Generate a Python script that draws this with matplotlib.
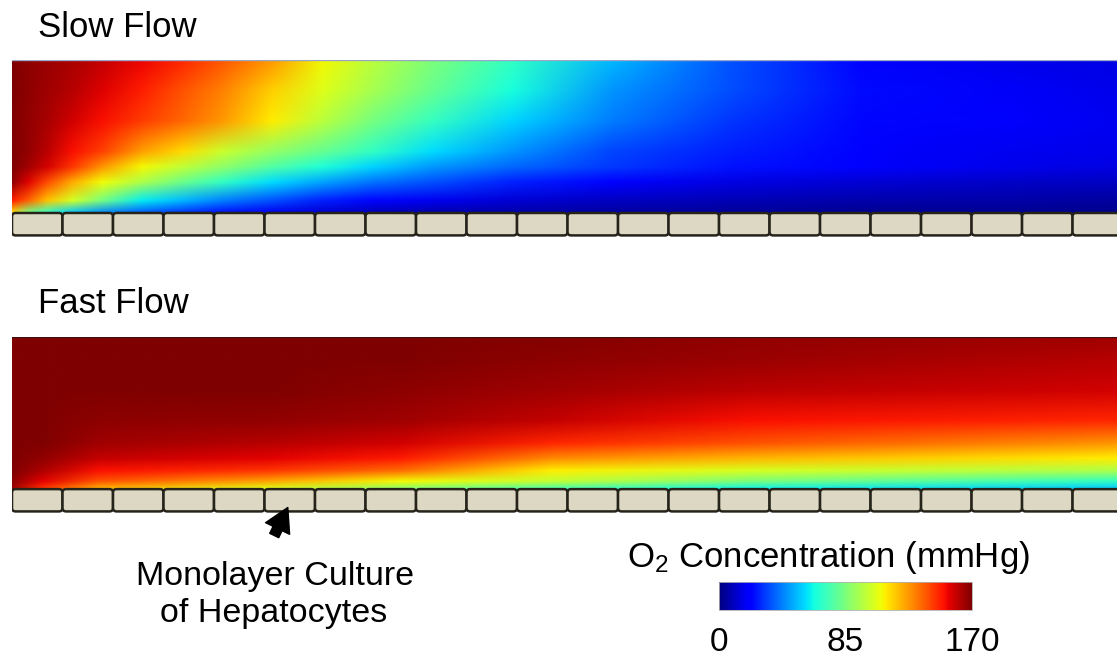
import matplotlib
matplotlib.use('Agg')
import matplotlib.pyplot as plt
import numpy as np
from matplotlib.image import NonUniformImage
from matplotlib.colors import Normalize
from matplotlib.patches import FancyBboxPatch, Rectangle, FancyArrowPatch
from matplotlib.cm import ScalarMappable

plt.rcParams['font.family'] = ['Liberation Sans', 'DejaVu Sans']
plt.rcParams['mathtext.fontset'] = 'custom'
plt.rcParams['mathtext.rm'] = 'Liberation Sans'
plt.rcParams['mathtext.it'] = 'Liberation Sans:italic'

# channel geometry in "cell widths"
chan_len = 21.88
chan_h = 3.0
n_cells = 22

# O2 (mmHg): columns = distance from inlet (cell widths),
# rows = height above the cells as a fraction of channel height
slow_x = [0, 0.3, 0.69, 1.19, 1.78, 2.57, 3.37, 4.16, 5.15, 6.14,
          7.13, 8.32, 9.9, 11.88, 14.26, 16.83, 19.8, 21.88]
slow_h = [0, 0.08, 0.2, 0.3, 0.4, 0.6, 0.8, 1.0]
slow_o2 = [
    [115,  85,  70,  55,  45,  37,  30,  24,  17,  12,   9,   7,   6,   5,   4,   3,   3,   2],  # h=0
    [150, 138, 120, 103,  84,  61,  52,  43,  35,  27,  22,  17,  13,  10,   8,   7,   6,   5],  # h=0.08
    [168, 156, 141, 124, 109,  95,  82,  70,  58,  49,  41,  35,  27,  20,  15,  13,  11,  10],  # h=0.2
    [170, 165, 157, 145, 128, 110,  99,  89,  77,  66,  57,  47,  39,  31,  24,  19,  16,  15],  # h=0.3
    [170, 167, 161, 152, 143, 126, 115, 101,  90,  81,  70,  58,  46,  33,  26,  20,  17,  16],  # h=0.4
    [170, 167, 164, 158, 152, 144, 136, 127, 112,  98,  84,  71,  57,  42,  30,  22,  19,  17],  # h=0.6
    [170, 168, 165, 162, 156, 149, 140, 131, 117, 105,  94,  81,  65,  46,  34,  23,  18,  16],  # h=0.8
    [170, 168, 166, 164, 160, 154, 148, 139, 127, 110,  98,  85,  70,  52,  35,  21,  16,  15],  # h=1.0
]

fast_x = [0, 0.6, 1.7, 5.1, 7.7, 10.7, 14.6, 21.88]
fast_h = [0, 0.05, 0.12, 0.2, 0.3, 0.45, 0.65, 0.85, 1.0]
fast_o2 = [
    [165, 145, 122, 105,  88,  75,  62,  55],   # h=0
    [168, 155, 140, 125, 110, 100,  85,  70],   # h=0.05
    [170, 163, 152, 145, 135, 112, 104,  95],   # h=0.12
    [170, 167, 160, 155, 150, 130, 122, 112],   # h=0.2
    [170, 170, 165, 162, 158, 148, 140, 128],   # h=0.3
    [170, 170, 168, 167, 165, 160, 152, 148],   # h=0.45
    [170, 170, 170, 170, 168, 165, 161, 158],   # h=0.65
    [170, 170, 170, 170, 170, 168, 166, 162],   # h=0.85
    [170, 170, 170, 170, 170, 169, 167, 165],   # h=1.0
]

cbar_ticks = [0, 85, 170]

W, H = 1117, 656
fig = plt.figure(figsize=(W / 100, H / 100), dpi=100)
fig.patch.set_facecolor('white')
norm = Normalize(0, 170)


def px_axes(x0, y0, x1, y1):
    return fig.add_axes([x0 / W, 1 - y1 / H, (x1 - x0) / W, (y1 - y0) / H])


def draw_channel(ax, xs, hs, vals, ybot):
    im = NonUniformImage(ax, interpolation='bilinear', cmap='jet', norm=norm,
                         extent=(0, chan_len, 0, chan_h))
    im.set_data(np.array(xs, float), np.array(hs, float) * chan_h,
                np.array(vals, float))
    ax.add_image(im)
    im.set_clip_path(Rectangle((0, 0), chan_len, chan_h, transform=ax.transData))
    # cell monolayer under the channel
    for i in range(n_cells):
        ax.add_patch(FancyBboxPatch((i + 0.04, -0.40), 0.92, 0.36,
                                    boxstyle='round,pad=0.04,rounding_size=0.07',
                                    facecolor='#dcd8c3', edgecolor='#26231a',
                                    linewidth=1.8, clip_on=True))
    ax.set_xlim(0, chan_len)
    ax.set_ylim(ybot, chan_h)
    ax.axis('off')


ax1 = px_axes(12, 60, 1117, 240)
draw_channel(ax1, slow_x, slow_h, slow_o2, -0.53)
ax1.plot([0, chan_len], [chan_h, chan_h], color='#9aa6c8', lw=1.0)

ax2 = px_axes(12, 337, 1117, 517)
draw_channel(ax2, fast_x, fast_h, fast_o2, -0.55)
ax2.plot([0, chan_len], [chan_h, chan_h], color='#3a1010', lw=1.5)

fig.text(38 / W, 1 - 37 / H, 'Slow Flow', fontsize=25, ha='left', va='baseline')
fig.text(38 / W, 1 - 313 / H, 'Fast Flow', fontsize=25, ha='left', va='baseline')

# annotation arrow to a cell
fig.text(275 / W, 1 - 585 / H, 'Monolayer Culture', fontsize=24.5,
         ha='center', va='baseline')
fig.text(274 / W, 1 - 622 / H, 'of Hepatocytes', fontsize=24.5,
         ha='center', va='baseline')
fig.patches.append(FancyArrowPatch(
    (273 / W, 1 - 538 / H), (289 / W, 1 - 505 / H), transform=fig.transFigure,
    arrowstyle='simple,head_width=1.6,head_length=1.4,tail_width=0.6',
    mutation_scale=12, color='black'))

# colorbar
cax = px_axes(719, 582, 972, 610)
sm = ScalarMappable(norm=norm, cmap='jet')
cb = fig.colorbar(sm, cax=cax, orientation='horizontal')
cb.outline.set_edgecolor('#b0b0b0')
cb.outline.set_linewidth(0.6)
cb.set_ticks(cbar_ticks)
cb.ax.tick_params(length=0, labelsize=24, pad=12)
fig.text(828 / W, 1 - 567 / H, r'O$_\mathrm{2}$ Concentration (mmHg)',
         fontsize=25, ha='center', va='baseline')

fig.savefig('out.png', dpi=100, facecolor='white')
